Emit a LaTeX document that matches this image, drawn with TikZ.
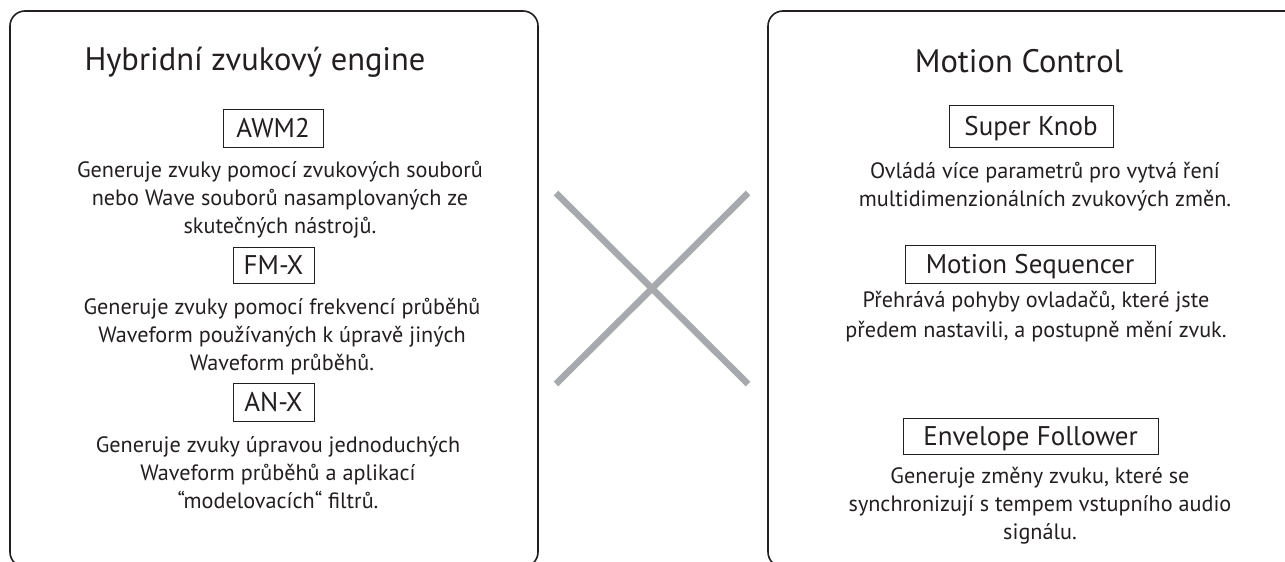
\documentclass[tikz,border=0pt]{standalone}
\usepackage{fontspec}
\setmainfont{PT Sans}
\definecolor{ink}{HTML}{231F20}
\definecolor{xgray}{HTML}{A7A9AC}
\begin{document}
\begin{tikzpicture}[x=1pt,y=-1pt,
  panel/.style={draw=ink, line width=1.6pt, rounded corners=15pt},
  titletext/.style={font=\fontsize{32.5}{38}\selectfont, text=ink, anchor=base, inner sep=0pt},
  labelbox/.style={draw=ink, line width=1pt, font=\fontsize{27}{32}\selectfont, text=ink, inner sep=0pt, text height=19pt, text depth=0pt},
  desc/.style={font=\fontsize{22.2}{28}\selectfont, text=ink, align=center, anchor=north, inner sep=0pt},
  cross/.style={draw=xgray, line width=6.5pt}]
\useasboundingbox (0,0) rectangle (1285,562);
\fill[white] (0,0) rectangle (1285,562);
% panels
\draw[panel] (10,11) rectangle (538,567);
\draw[panel] (768,11) rectangle (1310,567);
% left panel
\node[titletext] (ltitle) at (255,70) {Hybridní zvukový engine};
\node[labelbox, minimum width=100pt, minimum height=38pt] (awm) at (273,128) {AWM2};
\node[desc] (awmtext) at (280,157) {\rule{0pt}{20pt}Generuje zvuky pomocí zvukových souborů\\nebo Wave souborů nasamplovaných ze\\skutečných nástrojů.};
\node[labelbox, minimum width=81pt, minimum height=36pt] (fmx) at (273.5,265) {FM-X};
\node[desc] (fmxtext) at (282,294) {\rule{0pt}{20pt}Generuje zvuky pomocí frekvencí průběhů\\Waveform používaných k úpravě jiných\\Waveform průběhů.};
\node[labelbox, minimum width=81pt, minimum height=38pt] (anx) at (273.5,402) {AN-X};
\node[desc] (anxtext) at (278,432) {\rule{0pt}{20pt}Generuje zvuky úpravou jednoduchých\\Waveform průběhů a aplikací\\“modelovacích“ filtrů.};
% cross
\coordinate (c1) at (556,193);
\coordinate (c2) at (748,384);
\coordinate (c3) at (748,193);
\coordinate (c4) at (556,384);
\draw[cross] (c1) -- (c2);
\draw[cross] (c3) -- (c4);
% right panel
\node[titletext] (rtitle) at (1019,72) {Motion Control};
\node[labelbox, minimum width=164pt, minimum height=42pt] (knob) at (1031,126) {Super Knob};
\node[desc] (knobtext) at (1045,158) {\rule{0pt}{20pt}Ovládá více parametrů pro vytvá ření\\multidimenzionálních zvukových změn.};
\node[labelbox, minimum width=250pt, minimum height=38pt] (seq) at (1030,264) {Motion Sequencer};
\node[desc, font=\fontsize{22.2}{30}\selectfont] (seqtext) at (1036,287) {\rule{0pt}{20pt}Přehrává pohyby ovladačů, které jste\\předem nastavili, a postupně mění zvuk.};
\node[labelbox, minimum width=255pt, minimum height=36pt] (env) at (1030.5,436) {Envelope Follower};
\node[desc] (envtext) at (1040,463) {\rule{0pt}{20pt}Generuje změny zvuku, které se\\synchronizují s tempem vstupního audio\\signálu.};
\end{tikzpicture}
\end{document}
